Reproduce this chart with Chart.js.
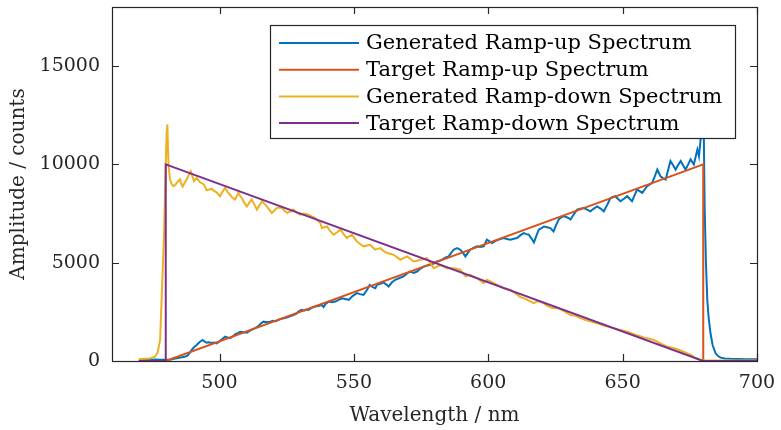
<!DOCTYPE html>
<html><head><meta charset="utf-8">
<script src="https://cdn.jsdelivr.net/npm/chart.js@4/dist/chart.umd.min.js"></script>
<style>html,body{margin:0;padding:0;background:#fff}#wrap{width:781px;height:430px}</style>
</head><body><div id="wrap"><canvas id="c" width="781" height="430"></canvas></div>
<script>
// ---- data ----
const seriesNames = ["Generated Ramp-up Spectrum","Target Ramp-up Spectrum","Generated Ramp-down Spectrum","Target Ramp-down Spectrum"];
const xTicks = [500,550,600,650,700];
const yTicks = [0,5000,10000,15000];

const genUpWl = [470,472,474,476,478,480,481,482,483,484,485,486,487,488,489,489.6,490.5,491.5,492.5,493.7,494.5,495.2,496,497,498,498.9,500,501,502.1,503,503.9,505,506,507,507.7,509,510.2,511,512,513.3,514.5,515.5,516.4,517.5,518.8,520,521,521.9,523,524.4,525.5,526.5,527.5,528.5,529.5,530.6,531.5,532.3,533.1,534.3,535.6,536.8,538.1,538.7,539.5,540.6,541.8,543.1,544.3,545.6,546.8,548.1,549.5,551.1,552.3,553.6,554.8,555.9,557,558,558.6,559.8,561,562,562.9,564.2,565.4,567,568.5,569.8,571,572.3,573.5,574.8,576,577.2,578.4,579.7,580.9,581.8,582.8,584,585.3,586.2,587.1,588.4,589.6,590.6,591.5,592.4,593.3,594.5,595.8,597,598.3,599.5,600.5,601.4,602.6,603.9,605.7,607,608.2,609.5,610.7,612,613.2,614.2,615.1,616,617,618,618.8,619.8,620.7,621.9,623.1,624.3,625.2,626.2,627.1,628.1,629,629.9,630.6,631.8,633.1,634.3,635.5,636.8,638,639.3,640.5,641.8,643,644.3,645.5,646.4,647.3,648.2,649.2,650.5,651.7,652.6,653.5,654.5,655.4,656.3,657.3,658.2,659.1,660,661,662,662.9,663.5,664.1,665,666,666.9,667.8,668.8,669.7,670.6,671.6,672.5,673.4,674.4,675.3,675.9,676.5,677.2,677.8,678.4,679,679.5,680,680.5,681,681.5,682,682.7,683.5,684.6,685.5,686.5,688,690,693,696,700];
const genUpAmp = [50,60,50,70,60,60,70,80,110,140,170,190,220,260,420,560,700,815,950,1070,980,930,950,920,940,900,1000,1120,1240,1200,1160,1250,1380,1430,1490,1460,1440,1520,1600,1670,1780,1920,2000,1970,2000,2050,2020,2090,2150,2180,2240,2280,2340,2400,2520,2600,2560,2620,2600,2700,2770,2800,2850,2740,2900,3020,2990,3020,3110,3190,3150,3110,3300,3450,3400,3360,3600,3870,3760,3700,3870,3920,3990,3900,3790,4000,4130,4220,4300,4450,4550,4480,4550,4700,4800,4850,4890,4950,5060,5100,5150,5250,5320,5500,5660,5740,5660,5500,5320,5500,5660,5750,5830,5800,5830,6170,6080,6000,6100,6170,6250,6200,6170,6220,6250,6400,6500,6450,6420,6250,6030,6400,6680,6760,6840,6800,6760,6590,6900,7190,7300,7360,7320,7270,7190,7450,7700,7740,7780,7700,7610,7750,7860,7750,7610,7950,8290,8340,8380,8250,8120,8250,8380,8250,8120,8450,8720,8640,8550,8720,8890,8970,9060,9400,9730,9560,9390,9300,9230,9700,10170,9950,9730,9950,10170,9950,9730,10000,10250,10120,9990,10400,10750,10410,11260,12500,14000,8000,5000,3110,2200,1410,800,390,250,170,130,110,100,90,90];

const tgtUpWl = [470,480,680,680,700];
const tgtUpAmp = [0,0,10000,0,0];

const genDownWl = [470,472,474,476,477,477.9,478.7,479.4,479.8,480.3,480.6,481,481.6,482.2,482.8,483.5,484.1,484.7,485.3,485.8,486.3,487,487.8,488.5,489.3,489.9,490.5,491.5,492.7,493.4,494.2,495.2,496.2,497.1,498,498.9,500.2,501.1,502.1,503,503.9,504.8,505.8,507,507.6,508.3,509.2,510.2,511.1,512,513,513.9,514.8,515.8,516.7,517.6,518.5,519.5,520.4,521.3,522.2,523.2,524.1,525.1,526.3,527.5,528.7,530,531.5,533.1,534.3,535.6,536.5,537.5,538.1,539,540,541.2,542.5,543.8,545,546.2,547.4,548.3,549.3,550.2,551.1,552.3,553.6,554.8,556.1,557,557.9,558.8,559.8,561,562.3,563.5,564.8,566,567.3,568.5,569.8,571,572.2,573.5,574.7,576,577.2,578.5,579.7,581,582.2,583.4,584.7,585.9,587.1,588.4,589.6,590.6,591.5,592.4,593.3,594.5,595.8,597,598.3,599.5,600.8,602,603.9,605.7,607,608.2,610,612,614,616.9,618.5,620.6,622,623.8,625.3,626.9,628.7,630.6,632.5,634.3,636,638,640.5,643,645.5,648.5,651.7,655,657.9,661.7,664,666.6,668.5,670.3,672.2,674.1,675.5,677.2,678.5,680,685,690,695,700];
const genDownAmp = [100,110,130,220,450,1070,4000,6600,9000,11500,12030,10000,9230,9000,8890,8950,9060,9150,9230,9000,8870,9050,9230,9450,9650,9400,9140,9310,9090,9050,8970,8680,8720,8750,8650,8580,8380,8600,8800,8600,8460,8300,8210,8550,8400,8290,8050,7860,8050,8210,7950,7700,7900,8120,8000,7860,7700,7530,7650,7780,7800,7780,7650,7530,7600,7700,7550,7440,7500,7440,7350,7270,7150,7020,6760,6800,6840,6600,6420,6550,6680,6450,6250,6350,6420,6250,6080,5950,5830,5870,5910,5780,5660,5700,5740,5600,5490,5450,5400,5280,5150,5230,5320,5200,5060,5100,5150,5190,5230,4980,4720,4800,4890,4800,4720,4720,4720,4680,4640,4450,4300,4340,4380,4300,4210,4100,3960,4130,4050,3960,3830,3700,3660,3620,3450,3250,3150,2940,3050,2940,2800,2690,2700,2630,2500,2340,2300,2180,2100,2020,1920,1800,1710,1600,1490,1330,1200,1070,900,730,680,600,500,390,300,140,70,20,20,20,20,20];

const tgtDownWl = [470,480,480,680,700];
const tgtDownAmp = [0,0,10000,0,0];

const colors = ["#0072BD","#D95319","#EDB120","#7E2F8E"];

function pts(xs, ys){ return xs.map((x,i)=>({x:x,y:ys[i]})); }

const axisColor = "#262626";
const FONT = "'DejaVu Serif', 'Liberation Serif', serif";

const framePlugin = {
  id: 'frame',
  afterDraw(chart){
    const ctx = chart.ctx, a = chart.chartArea;
    const xs = chart.scales.x, ys = chart.scales.y;
    ctx.save();
    ctx.strokeStyle = axisColor; ctx.lineWidth = 1.2;
    ctx.strokeRect(a.left+0.5, a.top+0.5, a.right-a.left, a.bottom-a.top);
    const tl = 7;
    ctx.beginPath();
    xs.ticks.forEach(t=>{ const px = Math.round(xs.getPixelForValue(t.value))+0.5;
      ctx.moveTo(px,a.bottom); ctx.lineTo(px,a.bottom-tl);
      ctx.moveTo(px,a.top); ctx.lineTo(px,a.top+tl); });
    ys.ticks.forEach(t=>{ const py = Math.round(ys.getPixelForValue(t.value))+0.5;
      ctx.moveTo(a.left,py); ctx.lineTo(a.left+tl,py);
      ctx.moveTo(a.right,py); ctx.lineTo(a.right-tl,py); });
    ctx.stroke();
    // legend
    const bx = a.right-487, by = a.top+18, bw = 465, bh = 113;
    ctx.fillStyle = "#fff"; ctx.fillRect(bx,by,bw,bh);
    ctx.strokeStyle = axisColor; ctx.lineWidth = 1.2; ctx.strokeRect(bx+0.5,by+0.5,bw,bh);
    ctx.font = "21px " + FONT; ctx.textBaseline = "middle"; ctx.textAlign = "left";
    chart.data.datasets.forEach((d,i)=>{
      const y = by + 18 + i*26.7;
      ctx.strokeStyle = d.borderColor; ctx.lineWidth = 2;
      ctx.beginPath(); ctx.moveTo(bx+9,y); ctx.lineTo(bx+89,y); ctx.stroke();
      ctx.fillStyle = "#000"; ctx.fillText(d.label, bx+96, y+1);
    });
    ctx.restore();
  }
};

new Chart(document.getElementById('c'), {
  type: 'line',
  data: { datasets: [
    {label: seriesNames[0], data: pts(genUpWl, genUpAmp), borderColor: colors[0], order: 4},
    {label: seriesNames[1], data: pts(tgtUpWl, tgtUpAmp), borderColor: colors[1], order: 3},
    {label: seriesNames[2], data: pts(genDownWl, genDownAmp), borderColor: colors[2], order: 2},
    {label: seriesNames[3], data: pts(tgtDownWl, tgtDownAmp), borderColor: colors[3], order: 1}
  ]},
  options: {
    responsive: false, animation: false, devicePixelRatio: 1,
    layout: { padding: {top: 7, right: 24, left: 0, bottom: 0} },
    elements: { point: {radius: 0}, line: {borderWidth: 2, tension: 0} },
    plugins: { legend: {display: false}, tooltip: {enabled: false} },
    scales: {
      x: { type: 'linear', min: 460, max: 700,
        grid: {display: false, drawTicks: false}, border: {display: false},
        afterBuildTicks: s => { s.ticks = xTicks.map(v=>({value:v})); },
        afterFit: s => { s.height = 69; s.paddingLeft = 0; s.paddingRight = 0; },
        ticks: { color: axisColor, padding: 11, maxRotation: 0, font: {family: FONT, size: 19}, callback: v => String(v) },
        title: { display: true, text: 'Wavelength / nm', color: axisColor, font: {family: FONT, size: 20}, padding: {top: 0, bottom: 2} }
      },
      y: { type: 'linear', min: 0, max: 18000,
        grid: {display: false, drawTicks: false}, border: {display: false},
        afterBuildTicks: s => { s.ticks = yTicks.map(v=>({value:v})); },
        afterFit: s => { s.width = 112; s.paddingTop = 0; s.paddingBottom = 0; },
        ticks: { color: axisColor, padding: 12, font: {family: FONT, size: 19}, callback: v => String(v) },
        title: { display: true, text: 'Amplitude / counts', color: axisColor, font: {family: FONT, size: 20}, padding: {top: 7, bottom: 0} }
      }
    }
  },
  plugins: [framePlugin]
});
</script></body></html>
